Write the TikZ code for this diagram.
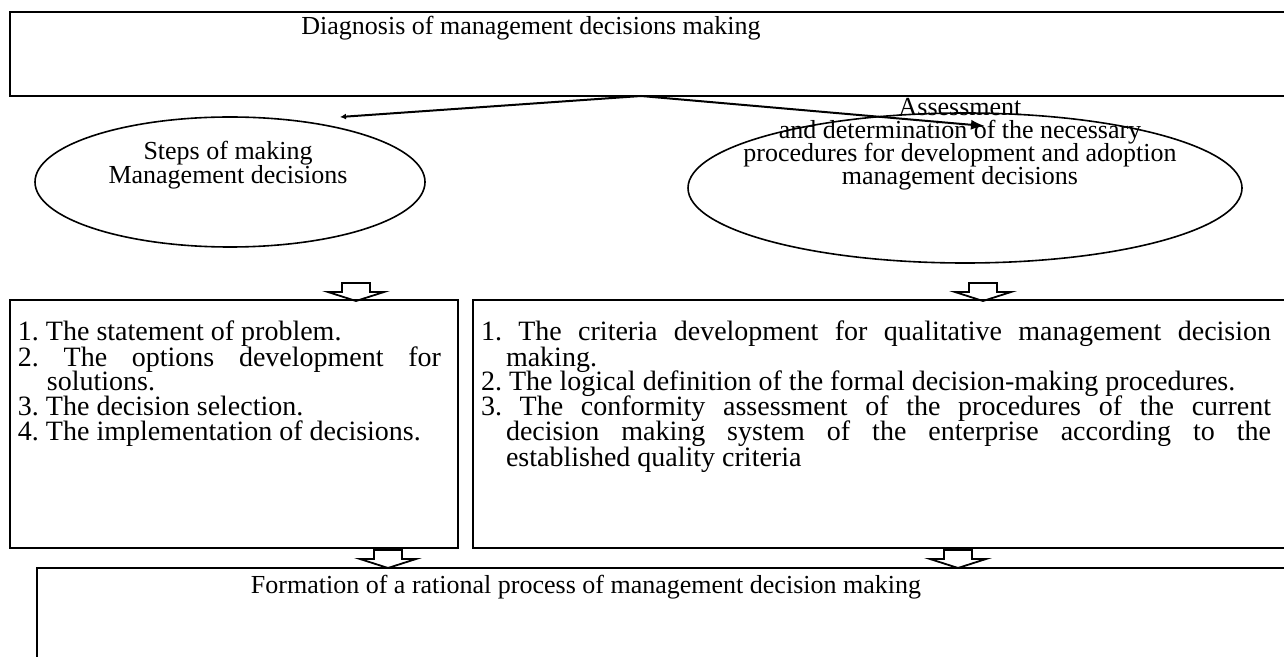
\documentclass[tikz,border=0pt]{standalone}
\usepackage{fontspec}
\setmainfont{Liberation Serif}
\usetikzlibrary{arrows.meta,positioning,fit,shapes.geometric,calc}

\newcommand{\itm}[2]{\par\lineskiplimit=-20pt\baselineskip=12.5pt
  \hangindent=#1\hangafter=1\noindent #2}

\tikzset{
  dnarrow/.pic={\draw[line width=0.9pt, line join=miter]
    (-14,-9) -- (-14,0) -- (-28,0) -- (0,9) -- (28,0) -- (14,0) -- (14,-9) -- cycle;}
}

\begin{document}
\frenchspacing
\lineskiplimit=-20pt
\begin{tikzpicture}[x=0.5pt, y=-0.5pt, line width=1pt,
  every node/.style={font=\fontsize{13}{12.4}\selectfont, inner sep=0pt},
  box/.style={draw, inner sep=0pt},
  oval/.style={draw, ellipse, line width=0.8pt, inner sep=0pt},
  list/.style={text width=#1, align=justify, anchor=north west, font=\fontsize{14}{12.5}\selectfont},
  arr/.style={-{Latex[length=7pt,width=5pt]}, line width=1pt}]
\useasboundingbox (0,0) rectangle (1284,657);

\node[box, fit={(10,12) (1300,96)}] (diag) {};
\node[anchor=base] (diagtext) at (531,35) {Diagnosis of management decisions making};

\node[oval, minimum width=195pt, minimum height=65pt] (steps) at (230,182) {};
\node[align=center, font=\fontsize{13}{12}\selectfont] (stepstext) at (228,165) {Steps of making\\Management decisions};
\node[oval, minimum width=277pt, minimum height=75pt] (assess) at (965,188) {};
\node[align=center, font=\fontsize{13}{11.5}\selectfont] (assesstext) at (960,144.5) {Assessment\\and determination of the necessary\\procedures for development and adoption\\management decisions};

\coordinate (fork) at (641,96);
\coordinate (lefttip) at (340,117);
\coordinate (righttip) at (985,126);
\draw[-{Latex[length=3pt,width=3pt]}] (fork) -- (lefttip);
\draw[arr] (fork) -- (righttip);

\node[box, fit={(10,300) (458,548)}] (stepbox) {};
\node[list=211.5pt] (steplist) at (17,315) {%
  \itm{14.5pt}{1. The statement of problem.}
  \itm{14.5pt}{2. The options development for\linebreak solutions.}
  \itm{14.5pt}{3. The decision selection.}
  \itm{14.5pt}{4. The implementation of decisions.}\par};

\node[box, fit={(473,300) (1300,548)}] (assessbox) {};
\node[list=395pt] (assesslist) at (480,315) {%
  \itm{12.5pt}{1. The criteria development for qualitative management decision\linebreak making.}
  \itm{12.5pt}{2. The logical definition of the formal decision-making procedures.}
  \itm{12.5pt}{3. The conformity assessment of the procedures of the current\linebreak decision making system of the enterprise according to the\linebreak established quality criteria}\par};

\node[box, fit={(37,568) (1300,680)}] (formation) {};
\node[anchor=base] (formtext) at (586,593) {Formation of a rational process of management decision making};

\pic at (356,292) {dnarrow};
\pic at (983,292) {dnarrow};
\pic at (388,559) {dnarrow};
\pic at (958,559) {dnarrow};
\end{tikzpicture}
\end{document}
